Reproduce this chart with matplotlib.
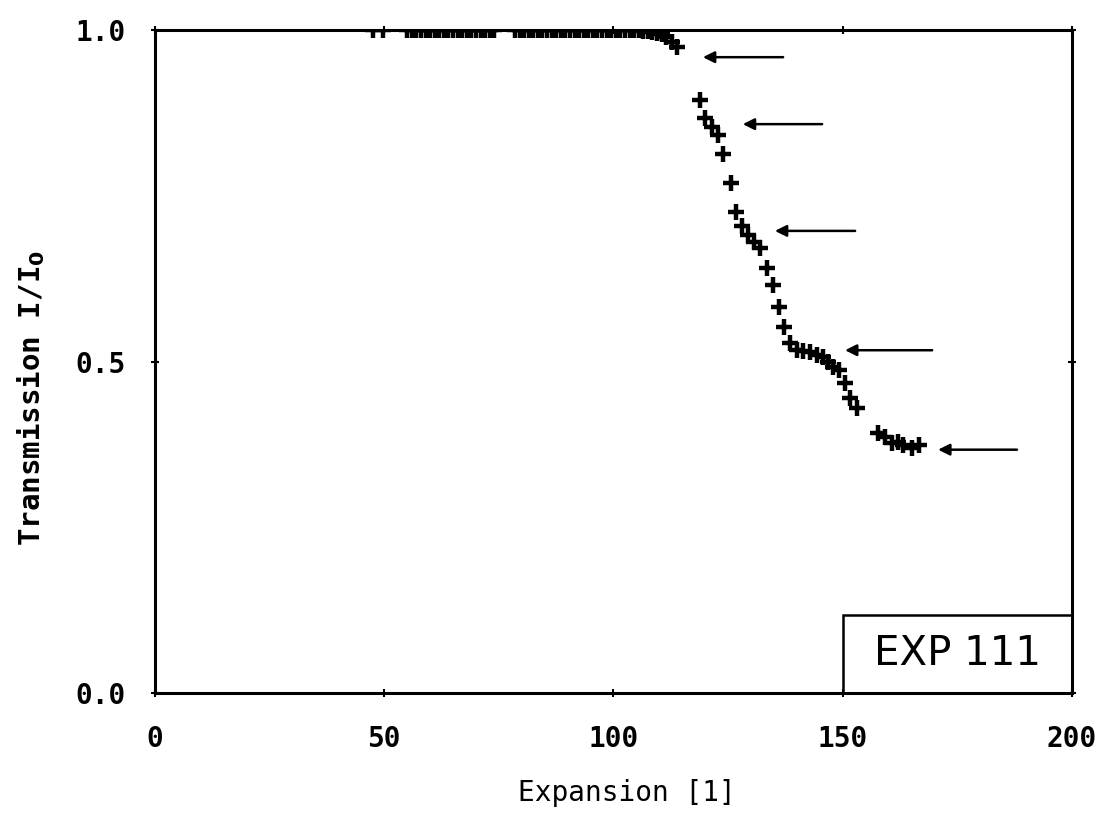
import matplotlib
matplotlib.use("Agg")
import matplotlib.pyplot as plt
from matplotlib.patches import Rectangle

# measured points (expansion, transmission)
expansion = [
    47.5, 49.7,
    55.0, 56.0, 57.0, 58.0, 59.0, 60.0, 61.0, 62.0, 63.0, 64.0, 65.0,
    66.0, 67.0, 68.0, 69.0, 70.0, 71.0, 72.0, 73.0, 74.0,
    78.5, 79.5, 80.5, 81.5, 82.5, 83.5, 84.5, 85.5, 86.5, 87.5, 88.5,
    89.5, 90.5, 91.5, 92.5, 93.5, 94.5, 95.5, 96.5, 97.5, 98.5, 99.5,
    100.5, 101.5, 102.5, 103.5, 104.5, 105.5, 106.5, 107.5, 108.5,
    109.5, 110.5, 111.5, 112.8, 113.9,
    118.9, 120.0, 121.5, 122.8, 123.9, 125.6, 126.7, 128.0, 129.3,
    130.6, 131.9, 133.5, 134.8, 136.1, 137.2, 138.5, 140.0, 141.3,
    142.9, 144.4, 145.7, 146.8, 147.9, 149.2, 150.5, 151.6, 153.1,
    157.7, 159.2, 160.7, 162.0, 163.1, 165.1, 166.6,
]
transmission = [
    1.0, 1.0,
    1.0, 1.0, 1.0, 1.0, 1.0, 1.0, 1.0, 1.0, 1.0, 1.0, 1.0,
    1.0, 1.0, 1.0, 1.0, 1.0, 1.0, 1.0, 1.0, 1.0,
    1.0, 1.0, 1.0, 1.0, 1.0, 1.0, 1.0, 1.0, 1.0, 1.0, 1.0,
    1.0, 1.0, 1.0, 1.0, 1.0, 1.0, 1.0, 1.0, 1.0, 1.0, 1.0,
    1.0, 1.0, 1.0, 1.0, 1.0, 1.0, 0.999, 0.998, 0.997,
    0.996, 0.994, 0.99, 0.982, 0.974,
    0.894, 0.867, 0.854, 0.842, 0.813, 0.769, 0.725, 0.704, 0.691,
    0.680, 0.671, 0.641, 0.615, 0.582, 0.552, 0.528, 0.517, 0.516,
    0.514, 0.510, 0.507, 0.499, 0.492, 0.487, 0.468, 0.445, 0.430,
    0.392, 0.386, 0.377, 0.379, 0.374, 0.370, 0.374,
]

# arrows marking the plateaus
arrow_y = [0.959, 0.858, 0.697, 0.517, 0.367]
arrow_head_x = [119.5, 128.2, 135.2, 150.5, 170.8]
arrow_tail_x = [137.0, 145.5, 152.7, 169.5, 188.0]

x_ticks = [0, 50, 100, 150, 200]
y_ticks = [0.0, 0.5, 1.0]
x_tick_labels = ["0", "50", "100", "150", "200"]
y_tick_labels = ["0.0", "0.5", "1.0"]

mono = "DejaVu Sans Mono"

fig = plt.figure(figsize=(11.08, 8.13), dpi=100)
ax = fig.add_axes([0.1399, 0.1476, 0.9675 - 0.1399, 0.9631 - 0.1476])

ax.plot(expansion, transmission, linestyle="none", marker="+",
        markersize=11, markeredgewidth=3.2, color="black", zorder=3)

for y, hx, tx in zip(arrow_y, arrow_head_x, arrow_tail_x):
    ax.annotate("", xy=(hx, y), xytext=(tx, y),
                arrowprops=dict(arrowstyle="-|>", color="black", lw=1.8,
                                mutation_scale=17, shrinkA=0, shrinkB=0))

# label box in the lower right corner
ax.add_patch(Rectangle((150, 0), 50, 0.118, fill=False, edgecolor="black",
                       linewidth=1.8, zorder=4))
ax.text(175, 0.059, "EXP 111", ha="center", va="center",
        fontsize=29, family="DejaVu Sans", color="black")

ax.set_xlim(0, 200)
ax.set_ylim(0, 1.0)
ax.set_xticks(x_ticks)
ax.set_xticklabels(x_tick_labels, fontsize=20, family=mono, fontweight="bold")
ax.set_yticks(y_ticks)
ax.set_yticklabels(y_tick_labels, fontsize=20, family=mono, fontweight="bold")
ax.tick_params(direction="inout", length=6, width=1.5, top=True, right=True)
ax.tick_params(axis="x", pad=20)
ax.tick_params(axis="y", pad=18)

for s in ax.spines.values():
    s.set_linewidth(2.2)

ax.set_xlabel("Expansion [1]", fontsize=20, family=mono)
ax.xaxis.set_label_coords(0.515, -0.13)
ax.set_ylabel("Transmission I/I$_{\\mathbf{0}}$", fontsize=21, family=mono,
              fontweight="bold")
ax.yaxis.set_label_coords(-0.118, 0.445)

fig.savefig("out.png", dpi=100)
